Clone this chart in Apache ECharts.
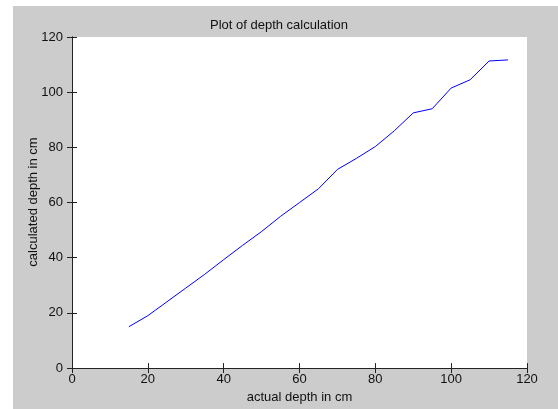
<!DOCTYPE html>
<html>
<head>
<meta charset="utf-8">
<script src="https://cdn.jsdelivr.net/npm/echarts@6/dist/echarts.min.js"></script>
<style>
html,body{margin:0;padding:0;background:#fff;}
#c{width:558px;height:409px;}
</style>
</head>
<body>
<div id="c"></div>
<script>
var actualDepth = [15, 20, 25, 30, 35, 40, 45, 50, 55, 60, 65, 70, 75, 80, 85, 90, 95, 100, 105, 110, 115];
var calcDepth   = [15, 19, 24, 29, 34, 39.3, 44.5, 49.5, 55, 60, 65, 72, 76, 80.3, 86, 92.5, 94, 101.5, 104.5, 111.3, 111.7];
var xTicks = [0, 20, 40, 60, 80, 100, 120];
var yTicks = [0, 20, 40, 60, 80, 100, 120];
var title = 'Plot of depth calculation';
var xName = 'actual depth in cm';
var yName = 'calculated depth in cm';

var font = 'Liberation Sans, Arial, sans-serif';
var chart = echarts.init(document.getElementById('c'), null, {renderer: 'canvas'});
var data = actualDepth.map(function (x, i) { return [x, calcDepth[i]]; });
function axisCommon(showLabel) {
  return {
    type: 'value', min: xTicks[0], max: xTicks[xTicks.length - 1], interval: 20,
    axisLine: {show: true, lineStyle: {color: '#222', width: 1}},
    axisTick: {show: true, inside: true, length: 5, lineStyle: {color: '#222'}},
    axisLabel: {show: showLabel, color: '#111', fontFamily: font, fontSize: 13},
    splitLine: {show: false}
  };
}
var xb = axisCommon(true); xb.position = 'bottom'; xb.axisLabel.margin = 5;
xb.name = xName; xb.nameLocation = 'middle'; xb.nameGap = 22;
xb.nameTextStyle = {color: '#111', fontFamily: font, fontSize: 13};
var xt = axisCommon(false); xt.position = 'top';
var yl = axisCommon(true); yl.position = 'left'; yl.min = yTicks[0]; yl.max = yTicks[yTicks.length - 1]; yl.axisLabel.margin = 9;
var yr = axisCommon(false); yr.position = 'right'; yr.min = yTicks[0]; yr.max = yTicks[yTicks.length - 1];

chart.setOption({
  animation: false,
  backgroundColor: '#fff',
  graphic: [
    {type: 'rect', z: -10, shape: {x: 13, y: 6, width: 545, height: 403}, style: {fill: '#cccccc'}},
    {type: 'text', x: 33, y: 202, rotation: Math.PI / 2, z: 10,
      style: {text: yName, fill: '#111', font: '13px ' + font, align: 'center', verticalAlign: 'middle'}}
  ],
  title: {text: title, left: 'center', top: 14,
    textStyle: {color: '#111', fontFamily: font, fontSize: 13, fontWeight: 'normal'}},
  grid: {left: 72, top: 37, right: 31, bottom: 39, show: true, backgroundColor: '#fff', borderWidth: 0},
  xAxis: [xb, xt],
  yAxis: [yl, yr],
  series: [{type: 'line', data: data, showSymbol: false, symbol: 'none',
    lineStyle: {color: '#0000ff', width: 1}, xAxisIndex: 0, yAxisIndex: 0}]
});
</script>
</body>
</html>
